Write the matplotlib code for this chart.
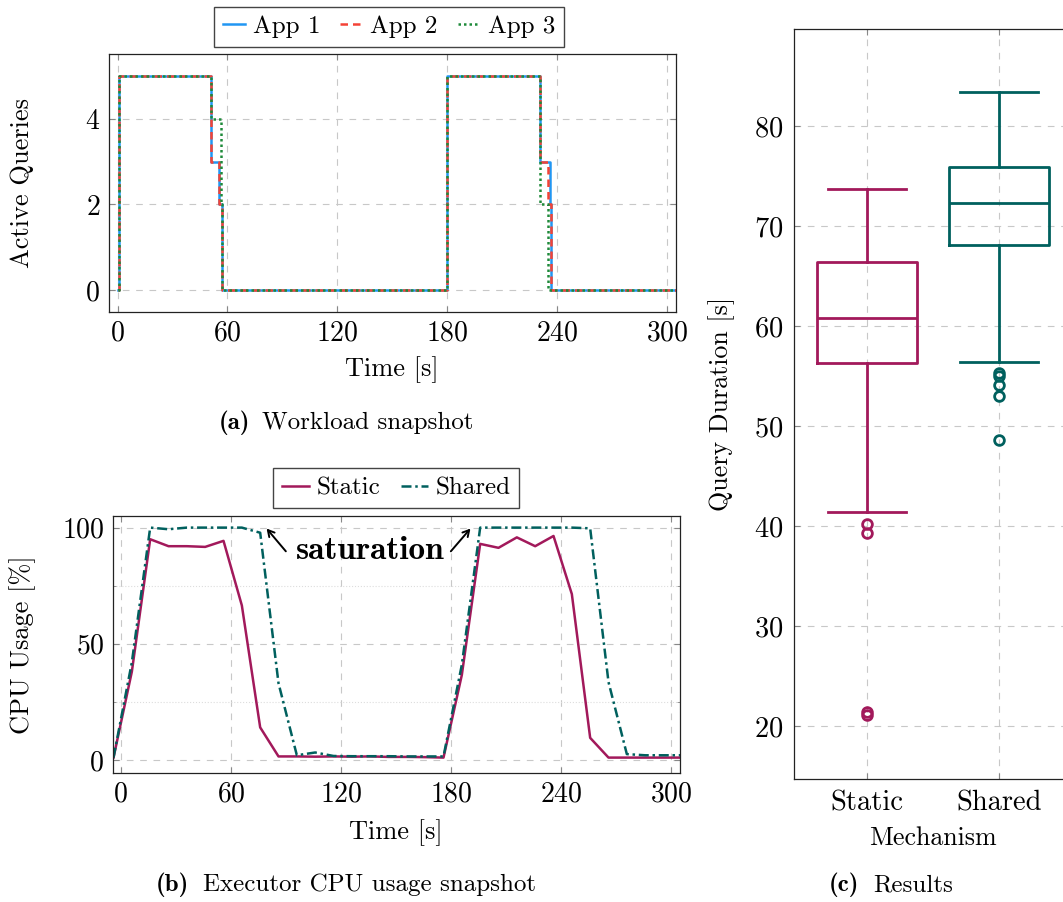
import numpy as np
import matplotlib.pyplot as plt

# fuente tipo LaTeX (viene con matplotlib)
plt.rcParams['font.family'] = ['cmr10', 'DejaVu Serif']
plt.rcParams['mathtext.fontset'] = 'cm'
plt.rcParams['axes.formatter.use_mathtext'] = True
plt.rcParams['axes.unicode_minus'] = False

# (a) consultas activas, escalones
t_app1 = [0, 0.5, 51, 55.5, 56.8, 180, 230.8, 236.0, 236.9, 305]
q_app1 = [0, 5, 3, 2, 0, 5, 3, 2, 0, 0]
t_app2 = [0, 0.5, 51, 55.5, 56.8, 180, 230.8, 235.0, 236.9, 305]
q_app2 = [0, 5, 3, 2, 0, 5, 3, 2, 0, 0]
t_app3 = [0, 0.5, 51, 56.2, 57.1, 180, 230.8, 235.0, 305]
q_app3 = [0, 5, 4, 2, 0, 5, 2, 0, 0]

# (b) uso de CPU
t_cpu = [-4, 6, 16, 26, 36, 46, 56, 66, 76, 86, 96, 106, 116, 126, 136, 146,
         156, 166, 176, 186, 196, 206, 216, 226, 236, 246, 256, 266, 276, 286,
         296, 306]
cpu_static = [1, 38, 95, 92, 92, 91.7, 94.3, 66.5, 14, 1.5, 1.5, 1.4, 1.5, 1.4,
              1.5, 1.3, 1.3, 1.2, 1.0, 36.6, 93, 91.3, 95.8, 92, 96.4, 71.4,
              9.5, 1.0, 1.0, 1.0, 1.0, 1.0]
cpu_shared = [1, 42, 100, 99.3, 100, 100, 100, 100, 97.8, 33, 2, 3.2, 1.7, 1.6,
              1.6, 1.6, 1.5, 1.5, 1.5, 41, 100, 100, 100, 100, 100, 100, 99.7,
              33.5, 2.5, 2.0, 2.0, 2.0]

# (c) resultados, estadisticas de las cajas
box_labels = ['Static', 'Shared']
box_med = [60.8, 72.3]
box_q1 = [56.35, 68.1]
box_q3 = [66.4, 75.9]
box_lo = [41.4, 56.4]
box_hi = [73.7, 83.4]
box_fliers = [[40.2, 39.3, 21.4, 21.1], [55.3, 55.0, 54.1, 53.0, 48.6]]

c_app = ['#2196F3', '#F44336', '#1E8A3A']
c_static = '#A2195B'
c_shared = '#00605E'
gris = '#c8c8c8'


def estilo(ax, size=20):
    ax.tick_params(direction='in', length=4, width=0.8, color='#888888',
                   top=True, right=True, labelsize=size, pad=6)
    ax.grid(True, color=gris, linestyle=(0, (6, 6)), linewidth=0.8)
    ax.set_axisbelow(True)
    for s in ax.spines.values():
        s.set_color('#222222')
        s.set_linewidth(0.9)


W, H = 1063, 902
fig = plt.figure(figsize=(W / 100, H / 100), dpi=100)


def caja(l, t, r, b):
    return [l / W, 1 - b / H, (r - l) / W, (b - t) / H]


def titulo(x_letra, x_texto, y, letra, texto):
    # subtitulo estilo subcaption: letra en negrita + texto normal
    fig.text(x_letra / W, 1 - y / H, letra, fontfamily='cmb10', fontsize=18,
             ha='left', va='center')
    fig.text(x_texto / W, 1 - y / H, texto, fontsize=18, ha='left', va='center')


# ---------- (a) ----------
ax1 = fig.add_axes(caja(108.5, 54.3, 676, 311.7))
ax1.plot(t_app1, q_app1, drawstyle='steps-post', color=c_app[0], lw=1.8, label='App 1')
ax1.plot(t_app2, q_app2, drawstyle='steps-post', color=c_app[1], lw=1.8,
         dashes=(3, 2), label='App 2')
ax1.plot(t_app3, q_app3, drawstyle='steps-post', color=c_app[2], lw=1.8,
         dashes=(1, 1.2), label='App 3')
ax1.set_xlim(-5, 305)
ax1.set_ylim(-0.5, 5.5)
ax1.set_xticks([0, 60, 120, 180, 240, 300])
ax1.set_yticks([0, 2, 4])
estilo(ax1)
ax1.set_xlabel('Time [s]', fontsize=19)
ax1.xaxis.set_label_coords(0.5, -0.225)
ax1.xaxis.label.set_va('center')
ax1.set_ylabel('Active Queries', fontsize=19)
ax1.yaxis.set_label_coords(-0.152, 0.5)
ax1.yaxis.label.set_va('center')
ax1.legend(loc='center', bbox_to_anchor=(0.494, 1.108), ncol=3, fontsize=18,
           frameon=True, fancybox=False, framealpha=1, edgecolor='#444444',
           handlelength=0.9, handletextpad=0.3, columnspacing=0.8,
           borderpad=0.35, borderaxespad=0)
titulo(219, 262, 423, '(a)', 'Workload snapshot')

# ---------- (b) ----------
ax2 = fig.add_axes(caja(112.6, 516, 680, 772.7))
ax2.plot(t_cpu, cpu_static, color=c_static, lw=1.8, label='Static')
ax2.plot(t_cpu, cpu_shared, color=c_shared, lw=1.8, dashes=(4, 1.5, 1, 1.5),
         label='Shared')
ax2.set_xlim(-4.5, 305)
ax2.set_ylim(-5.5, 105)
ax2.set_xticks([0, 60, 120, 180, 240, 300])
ax2.set_yticks([0, 50, 100])
ax2.set_yticks([25, 75], minor=True)
estilo(ax2)
ax2.tick_params(which='minor', direction='in', length=2.5, color='#888888',
                right=True)
ax2.grid(True, which='minor', axis='y', color='#dddddd', linestyle=':',
         linewidth=0.8)
ax2.set_xlabel('Time [s]', fontsize=19)
ax2.xaxis.set_label_coords(0.5, -0.235)
ax2.xaxis.label.set_va('center')
ax2.set_ylabel('CPU Usage [%]', fontsize=19)
ax2.yaxis.set_label_coords(-0.159, 0.5)
ax2.yaxis.label.set_va('center')
ax2.legend(loc='center', bbox_to_anchor=(0.5, 1.109), ncol=2, fontsize=18,
           frameon=True, fancybox=False, framealpha=1, edgecolor='#444444',
           handlelength=1.1, handletextpad=0.3, columnspacing=0.8,
           borderpad=0.35, borderaxespad=0)
ax2.text(136, 90, 'saturation', fontfamily='cmb10', fontsize=24,
         ha='center', va='center')
flecha = dict(arrowstyle='->, head_length=0.45, head_width=0.25',
              color='black', lw=1.4, shrinkA=0, shrinkB=0)
ax2.annotate('', xy=(79.5, 99.6), xytext=(90, 89.8), arrowprops=flecha)
ax2.annotate('', xy=(190.7, 99.6), xytext=(180, 89.8), arrowprops=flecha)
titulo(156, 203, 885, '(b)', 'Executor CPU usage snapshot')

# ---------- (c) ----------
ax3 = fig.add_axes(caja(794.3, 29, 1072, 779))
for i, col in enumerate([c_static, c_shared]):
    st = [dict(med=box_med[i], q1=box_q1[i], q3=box_q3[i], whislo=box_lo[i],
               whishi=box_hi[i], fliers=box_fliers[i], label=box_labels[i])]
    lp = dict(color=col, linewidth=2.0)
    ax3.bxp(st, positions=[i + 1], widths=0.756, capwidths=0.59,
            boxprops=lp, whiskerprops=lp, capprops=lp, medianprops=lp,
            flierprops=dict(marker='o', markerfacecolor='none',
                            markeredgecolor=col, markersize=7,
                            markeredgewidth=2.0))
ax3.set_xlim(0.45, 2.55)
ax3.set_ylim(14.7, 89.7)
ax3.set_xticks([1, 2])
ax3.set_xticklabels(box_labels)
ax3.set_yticks([20, 30, 40, 50, 60, 70, 80])
estilo(ax3, size=20.5)
ax3.tick_params(pad=8)
ax3.set_xlabel('Mechanism', fontsize=18.7)
ax3.xaxis.set_label_coords(0.5, -0.079)
ax3.xaxis.label.set_va('center')
ax3.set_ylabel('Query Duration [s]', fontsize=18.7)
ax3.yaxis.set_label_coords(-0.26, 0.5)
ax3.yaxis.label.set_va('center')
titulo(829, 873, 885, '(c)', 'Results')

fig.savefig('out.png', dpi=100)
